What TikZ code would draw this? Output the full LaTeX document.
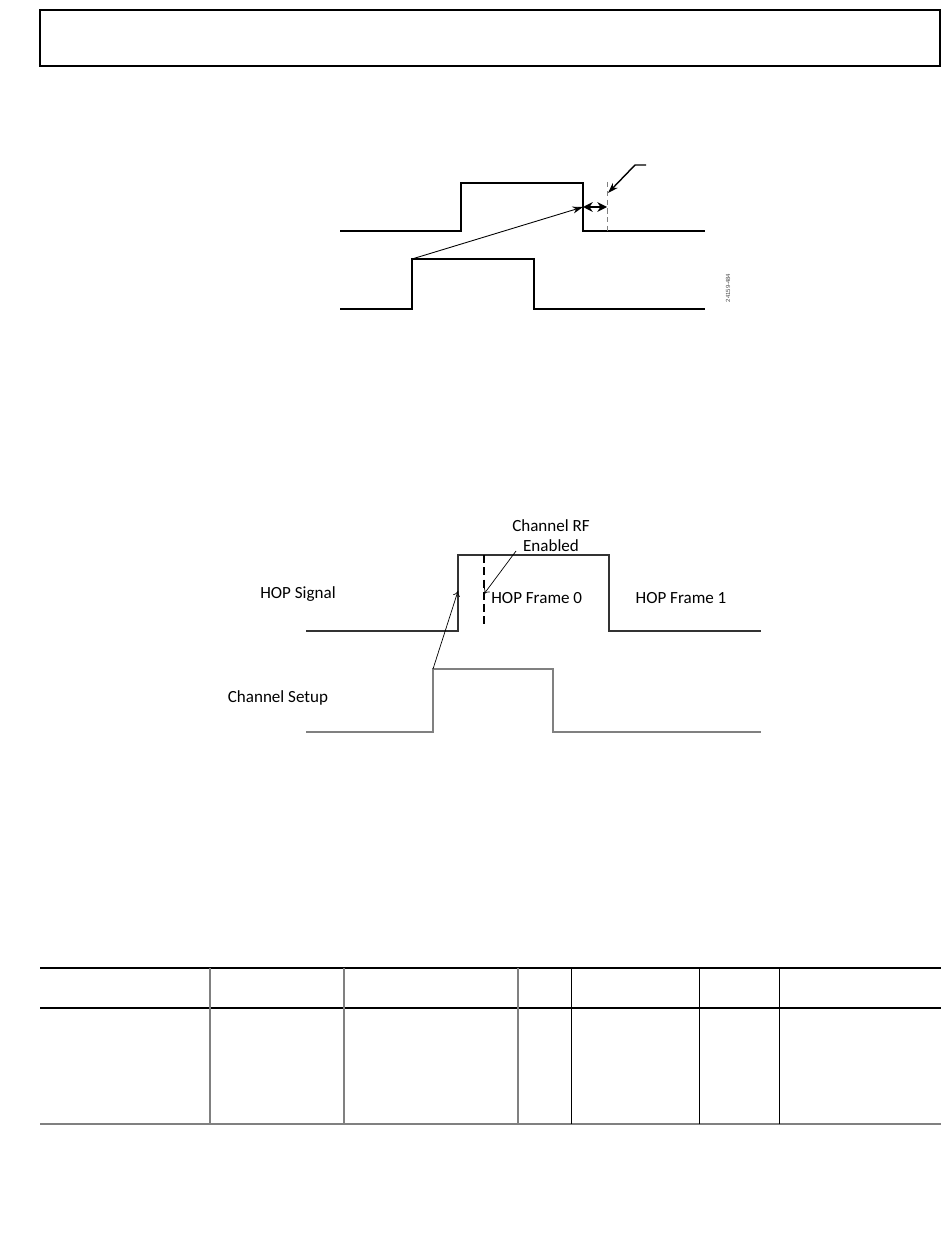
\documentclass[tikz,border=0pt]{standalone}
\usepackage{fontspec}
\setmainfont{Carlito}
\newfontfamily\figfont{Liberation Sans}
\usetikzlibrary{arrows.meta}

\begin{document}
\begin{tikzpicture}
[x=0.02cm,y=-0.02cm,%
  boldWave/.style={line width=1.4pt},%
  hopWave/.style={line width=0.6pt,color=black!80},%
  setupWave/.style={line width=0.85pt,color=gray},%
  thinArrow/.style={-{Stealth[length=6pt,width=4pt]},line width=0.5pt},%
  gapArrow/.style={{Stealth[length=5.5pt,width=5.5pt]}-{Stealth[length=5.5pt,width=5.5pt]},line width=1pt},%
  openArrow/.style={-{To[length=3pt,width=4pt]},line width=0.4pt},%
  gapMark/.style={dash pattern=on 3pt off 2pt,line width=0.5pt,color=gray},%
  rfMark/.style={dash pattern=on 4.5pt off 2.5pt,line width=0.7pt},%
  sigText/.style={font=\fontsize{9.7}{11.3}\selectfont,inner sep=0pt},%
  tableRule/.style={line width=1pt}]
\useasboundingbox (0,0) rectangle (950,1260);
%% header box
\draw[line width=1pt] (40,10) rectangle (940,66);
%% top timing figure
\foreach \y/\hi/\up/\dn in {231/183/461/583, 309/259/412/534}
{
  \draw[boldWave] (340,\y) -| (\up,\hi) -| (\dn,\y) -- (705,\y);
}
\draw[gapMark] (607,182) -- (607,231);
\coordinate (lowRise) at (412,259);
\coordinate (upFall) at (583,207);
\coordinate (gapEnd) at (607,207);
\coordinate (tagEnd) at (646,165);
\coordinate (tagKnee) at (635,165);
\coordinate (tagTip) at (608,193);
\draw[thinArrow] (lowRise) -- (upFall);
\draw[gapArrow] (upFall) -- (gapEnd);
\draw[thinArrow,line width=0.8pt] (tagEnd) -- (tagKnee) -- (tagTip);
\node (figId) at (728,288) [rotate=90,inner sep=0pt,color=black!70]
  {\figfont\fontsize{3.4}{4}\selectfont 24159-484};
%% hop timing figure
\draw[hopWave] (306,631) -| (458,555) -| (609,631) -- (761,631);
\draw[setupWave] (306,732) -| (433,669) -| (553,732) -- (761,732);
\draw[rfMark] (484,555) -- (484,627);
\node (rfText) at (551,536) [sigText,align=center] {Channel RF\\Enabled};
\node (hopSignal) at (298,594) [sigText] {HOP Signal};
\node (frameZero) at (491,598) [sigText,anchor=west] {HOP Frame 0};
\node (frameOne) at (681,598) [sigText] {HOP Frame 1};
\node (chanSetup) at (278,698) [sigText] {Channel Setup};
\coordinate (setupRise) at (433,669);
\coordinate (hopEdge) at (458,591);
\coordinate (rfStart) at (516,551);
\coordinate (rfTip) at (484,594);
\draw[openArrow] (setupRise) -- (hopEdge);
\draw[openArrow] (rfStart) -- (rfTip);
%% table
\draw[tableRule] (40,968) -- (941,968);
\draw[tableRule] (40,1008) -- (941,1008);
\draw[tableRule,color=gray,line width=1.3pt] (40,1124) -- (941,1124);
\foreach \x/\col/\w in {210/gray/1pt, 344/gray/1pt, 518/gray/1pt, 571/black/0.55pt, 699/black/0.55pt, 779/black/0.55pt}
{
  \draw[color=\col,line width=\w] (\x,968) -- (\x,1124);
}
\end{tikzpicture}
\end{document}
